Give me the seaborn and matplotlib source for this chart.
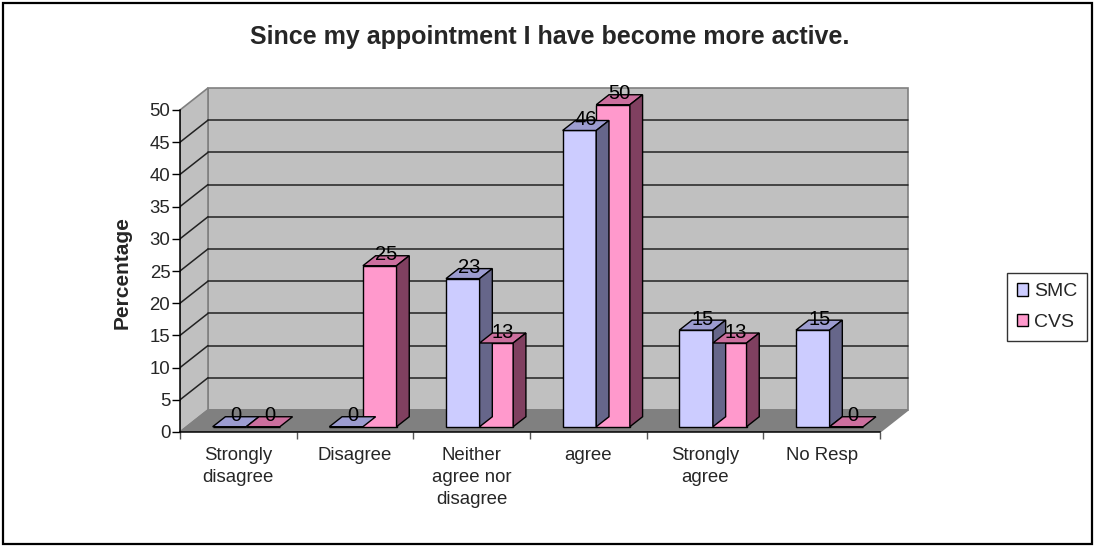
import numpy as np
import pandas as pd
import matplotlib
matplotlib.use("Agg")
import matplotlib.pyplot as plt
from matplotlib.patches import Polygon, Rectangle, Patch
import seaborn as sns

# ---- data ----
categories = ["Strongly\ndisagree", "Disagree", "Neither\nagree nor\ndisagree",
              "agree", "Strongly\nagree", "No Resp"]
series = ["SMC", "CVS"]
smc_values = [0, 0, 23, 46, 15, 15]
cvs_values = [0, 25, 13, 50, 13, 0]
y_ticks = list(range(0, 55, 5))
title = "Since my appointment I have become more active."
y_label = "Percentage"

df = pd.DataFrame({
    "category": categories * 2,
    "series": [series[0]] * len(categories) + [series[1]] * len(categories),
    "value": smc_values + cvs_values,
})

# ---- styling ----
FONT = ["Liberation Sans", "DejaVu Sans"]
sns.set_theme(style="white")
plt.rcParams["font.family"] = FONT
FS = 13.4

front_cols = ["#CCCCFF", "#FF99CC"]
top_cols = ["#9C9CD0", "#CC6F9E"]
side_cols = ["#66668A", "#804060"]
wall_col = "#C0C0C0"
floor_col = "#808080"
wall_edge = "#808080"

# oblique depth of the plot box (data units) and of the bars
DX, DY = 0.24, 3.42
BDX, BDY = 0.109, 1.55
BASE = 0.82          # bars sit a little behind the front plane
SHIFT = 0.068        # bar group offset inside each category

W, H = 1094, 546
fig = plt.figure(figsize=(W / 100, H / 100), dpi=100)
fig.patch.set_facecolor("white")

xmin, xmax = -0.5, 5.8
ymin, ymax = 0, 54
px_x, px_y = 700 / 6, 322 / 50
ax_left, ax_bottom = 180, 546 - 432
ax = fig.add_axes([ax_left / W, ax_bottom / H,
                   (xmax - xmin) * px_x / W, (ymax - ymin) * px_y / H])
ax.set_facecolor("none")

# ---- walls and floor ----
x0, x1 = -0.5, 5.5
ax.add_patch(Polygon([(x0 + DX, DY), (x1 + DX, DY), (x1 + DX, 50 + DY), (x0 + DX, 50 + DY)],
                     closed=True, facecolor=wall_col, edgecolor=wall_edge, lw=1.2, zorder=0))
ax.add_patch(Polygon([(x0, 0), (x0 + DX, DY), (x0 + DX, 50 + DY), (x0, 50)],
                     closed=True, facecolor=wall_col, edgecolor=wall_edge, lw=1.2, zorder=0))
ax.add_patch(Polygon([(x0, 0), (x1, 0), (x1 + DX, DY), (x0 + DX, DY)],
                     closed=True, facecolor=floor_col, edgecolor=wall_edge, lw=1.2, zorder=0.5))
for v in y_ticks[1:-1]:
    ax.plot([x0 + DX, x1 + DX], [v + DY, v + DY], color="#222222", lw=1.1, zorder=0.3)
    ax.plot([x0, x0 + DX], [v, v + DY], color="#222222", lw=1.1, zorder=0.3)

# ---- bars (front faces) ----
sns.barplot(data=df, x="category", y="value", hue="series", order=categories,
            hue_order=series, palette=front_cols, width=0.576, dodge=True,
            saturation=1, edgecolor="black", linewidth=1.0, legend=False,
            ax=ax, zorder=3)

for s_idx, cont in enumerate(ax.containers):
    for patch, val in zip(cont.patches, df[df["series"] == series[s_idx]]["value"]):
        patch.set_x(patch.get_x() + SHIFT)
        patch.set_y(BASE)
        patch.set_zorder(3)
        bx, bw = patch.get_x(), patch.get_width()
        top = BASE + val
        # top face
        ax.add_patch(Polygon([(bx, top), (bx + bw, top), (bx + bw + BDX, top + BDY), (bx + BDX, top + BDY)],
                             closed=True, facecolor=top_cols[s_idx], edgecolor="black",
                             lw=1.0, zorder=3))
        # side face
        if val > 0:
            ax.add_patch(Polygon([(bx + bw, BASE), (bx + bw + BDX, BASE + BDY),
                                  (bx + bw + BDX, top + BDY), (bx + bw, top)],
                                 closed=True, facecolor=side_cols[s_idx], edgecolor="black",
                                 lw=1.0, zorder=3))
        ax.text(bx + bw / 2 + BDX / 2, val + 2.5, f"{val:g}", ha="center", va="center",
                fontsize=14.5, color="black", zorder=5)

# ---- axes ----
ax.set_xlim(xmin, xmax)
ax.set_ylim(ymin, ymax)
for side in ["top", "right"]:
    ax.spines[side].set_visible(False)
ax.spines["left"].set_bounds(0, 50)
ax.spines["bottom"].set_bounds(x0, x1)
for side in ["left", "bottom"]:
    ax.spines[side].set_color("black")
    ax.spines[side].set_linewidth(1.1)
    ax.spines[side].set_zorder(4)

ax.set_yticks(y_ticks)
ax.set_yticklabels([str(t) for t in y_ticks], fontsize=FS)
ax.tick_params(axis="y", which="major", direction="out", length=5.5, width=1,
               color="black", pad=1.5, left=True)

ax.set_xticks(np.arange(x0, x1 + 0.01, 1.0))
ax.set_xticklabels([])
ax.tick_params(axis="x", which="major", direction="out", length=5, width=1,
               color="#555555", bottom=True)
ax.set_xticks(np.arange(len(categories)), minor=True)
ax.set_xticklabels(categories, minor=True, fontsize=FS, linespacing=1.38)
ax.tick_params(axis="x", which="minor", length=0, pad=11)
ax.set_xlabel("")
ax.set_ylabel("")
ax.grid(False)

# ---- texts ----
fig.text(550 / W, 1 - 37 / H, title, ha="center", va="center",
         fontsize=18, fontweight="bold")
fig.text(122 / W, 1 - 273 / H, y_label, ha="center", va="center",
         rotation=90, fontsize=15, fontweight="bold")

# ---- legend ----
handles = [Patch(facecolor=front_cols[i], edgecolor="black", lw=1) for i in range(2)]
leg = fig.legend(handles, series, loc="center", bbox_to_anchor=(1047 / W, 1 - 307 / H),
                 fontsize=14, frameon=True, fancybox=False, edgecolor="black",
                 handlelength=0.6, handleheight=0.6, handletextpad=0.3,
                 borderpad=0.5, labelspacing=0.7, borderaxespad=0)
leg.get_frame().set_linewidth(1)

# ---- outer frame ----
fig.add_artist(Rectangle((2.5 / W, 2.5 / H), (W - 5) / W, (H - 5) / H,
                         transform=fig.transFigure, fill=False,
                         edgecolor="black", lw=1.6))

fig.savefig("out.png", dpi=100)
